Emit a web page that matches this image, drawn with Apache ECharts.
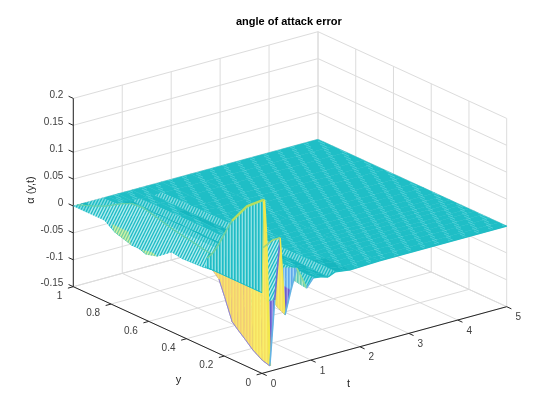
<!DOCTYPE html>
<html>
<head>
<meta charset="utf-8">
<title>angle of attack error</title>
<script src="https://cdn.jsdelivr.net/npm/echarts@6/dist/echarts.min.js"></script>
<style>
  html, body { margin: 0; padding: 0; background: #fff; }
  #chart { width: 560px; height: 420px; }
</style>
</head>
<body>
<div id="chart"></div>
<script>
// values
var tTicks = [0, 1, 2, 3, 4, 5];
var yTicks = [0, 0.2, 0.4, 0.6, 0.8, 1];
var zTicks = [-0.15, -0.1, -0.05, 0, 0.05, 0.1, 0.15, 0.2];

var tValues = [0, 0.04, 0.08, 0.12, 0.16, 0.26, 0.37, 0.47, 0.59, 0.71, 0.81, 0.91, 1.05, 1.2, 1.35, 1.5, 1.8, 2.4, 5];
var yValues = [0, 0.04, 0.09, 0.13, 0.17, 0.2, 0.24, 0.27, 0.3, 0.34, 0.38, 0.44, 0.49, 0.56, 0.65, 0.71, 0.76, 0.85, 0.92, 1];
// one row per t, one column per y
var zRows = [
  [0, 0, 0, 0, 0, 0, 0, 0, 0, 0, 0, 0, 0, 0, 0, 0, 0, 0, 0, 0],
  [0.172, 0.16, 0.145, 0.125, 0.105, 0.082, 0.05, 0.03, 0.015, 0.015, 0.018, 0.021, 0.024, 0.028, 0.03, 0.029, 0.025, 0.012, 0.005, 0],
  [0.11, 0.115, 0.11, 0.09, 0.07, 0.05, 0.035, 0.024, 0.024, 0.026, 0.029, 0.033, 0.036, 0.043, 0.051, 0.049, 0.041, 0.022, 0.011, 0],
  [-0.02, -0.01, -0.005, -0.005, -0.005, -0.005, 0, 0.005, 0.008, 0.012, 0.018, 0.022, 0.026, 0.032, 0.036, 0.036, 0.03, 0.015, 0.005, 0],
  [-0.14, -0.136, -0.125, -0.112, -0.1, -0.09, -0.05, -0.022, -0.012, -0.004, 0.004, 0.008, 0.012, 0.018, 0.02, 0.02, 0.015, 0.005, 0, 0],
  [-0.02, -0.03, -0.05, -0.056, -0.06, -0.052, -0.035, -0.024, -0.016, -0.018, -0.02, -0.021, -0.022, -0.018, -0.035, -0.04, -0.04, -0.03, -0.012, 0],
  [0.093, 0.082, 0.06, 0.045, 0.03, 0.018, 0.005, -0.003, -0.01, -0.017, -0.024, -0.024, -0.024, -0.022, -0.046, -0.052, -0.046, -0.04, -0.02, 0],
  [-0.053, -0.045, -0.03, -0.02, -0.012, -0.008, -0.004, -0.002, 0, -0.006, -0.012, -0.013, -0.014, -0.012, -0.02, -0.022, -0.02, -0.016, -0.006, 0],
  [-0.01, -0.008, -0.004, -0.002, 0, 0.001, 0.002, 0.002, 0.002, 0.003, 0.004, 0.004, 0.004, 0.004, 0.006, 0.006, 0.006, 0.004, 0.002, 0],
  [0.028, 0.022, 0.014, 0.01, 0.006, 0.004, 0.003, 0.002, 0.002, 0.004, 0.006, 0.006, 0.006, 0.008, 0.008, 0.008, 0.008, 0.006, 0.002, 0],
  [0.008, 0.006, 0.004, 0.003, 0.002, 0.002, 0.001, 0.001, 0.001, 0.002, 0.002, 0.002, 0.002, 0.002, 0.002, 0.002, 0.002, 0.002, 0.001, 0],
  [-0.014, -0.012, -0.008, -0.006, -0.004, -0.003, -0.002, -0.002, -0.002, -0.003, -0.004, -0.004, -0.004, -0.004, -0.004, -0.004, -0.004, -0.003, -0.001, 0],
  [0.002, 0.002, 0.002, 0.002, 0.001, 0.001, 0.001, 0.001, 0.001, 0.001, 0.001, 0.001, 0.001, 0.001, 0.001, 0.001, 0.001, 0.001, 0, 0],
  [0, 0, 0, 0, 0, 0, 0, 0, 0, 0, 0, 0, 0, 0, 0, 0, 0, 0, 0, 0],
  [-0.004, -0.004, -0.003, -0.003, -0.002, -0.002, -0.002, -0.001, -0.001, -0.002, -0.002, -0.002, -0.002, -0.002, -0.002, -0.002, -0.002, -0.001, -0.001, 0],
  [0.002, 0.002, 0.002, 0.002, 0.001, 0.001, 0.001, 0.001, 0.001, 0.001, 0.001, 0.001, 0.001, 0.001, 0.001, 0.001, 0.001, 0.001, 0, 0],
  [-0.002, -0.002, -0.002, -0.002, -0.001, -0.001, -0.001, -0.001, -0.001, -0.001, -0.001, -0.001, -0.001, -0.001, -0.001, -0.001, -0.001, -0.001, 0, 0],
  [0, 0, 0, 0, 0, 0, 0, 0, 0, 0, 0, 0, 0, 0, 0, 0, 0, 0, 0, 0],
  [0, 0, 0, 0, 0, 0, 0, 0, 0, 0, 0, 0, 0, 0, 0, 0, 0, 0, 0, 0]
];

// MATLAB style orthographic view, in page pixels
function project(t, y, z) {
  return [262 + 48.94 * t - 188.7 * y, 373.4 - 13.34 * t - 86.7 * y - 538 * (z + 0.15)];
}

function slantPattern(bg, fg) {
  var c = document.createElement('canvas');
  c.width = 12; c.height = 24;
  var g = c.getContext('2d');
  g.fillStyle = bg;
  g.fillRect(0, 0, 12, 24);
  g.strokeStyle = fg;
  g.lineWidth = 1.4;
  for (var x = -24; x < 36; x += 3) {
    g.beginPath();
    g.moveTo(x, 24);
    g.lineTo(x + 12, 0);
    g.stroke();
  }
  return { image: c, repeat: 'repeat' };
}

function stripePattern(bg, fg) {
  var c = document.createElement('canvas');
  c.width = 3; c.height = 3;
  var g = c.getContext('2d');
  g.fillStyle = bg;
  g.fillRect(0, 0, 3, 3);
  g.fillStyle = fg;
  g.fillRect(0, 0, 1.6, 3);
  return { image: c, repeat: 'repeat' };
}

// flat part: dense lines that beat into steep light bands
function flatPattern(bg, fg) {
  var c = document.createElement('canvas');
  c.width = 16; c.height = 24;
  var g = c.getContext('2d');
  g.fillStyle = bg;
  g.fillRect(0, 0, 16, 24);
  g.strokeStyle = fg;
  g.lineWidth = 1;
  for (var r = -3; r < 27; r += 3) {
    for (var k = -16; k <= 16; k += 16) {
      g.beginPath();
      g.moveTo(r * 2 / 3 + k, r);
      g.lineTo(r * 2 / 3 + k + 7, r + 3.2);
      g.stroke();
    }
  }
  return { image: c, repeat: 'repeat' };
}

var fills = {
  flat: flatPattern('#1fbec6', '#4ccfd6'),
  dense: flatPattern('#16b6bf', '#2cc4cc'),
  ripple: slantPattern('#86dde2', '#18bbc4'),
  fan: slantPattern('#b5ecee', '#1fbcc6'),
  steep: stripePattern('#8ce0e4', '#1fbcc6'),
  blue: stripePattern('#a5d8f3', '#5fa8ec'),
  purple: stripePattern('#a79be6', '#6a5fd0'),
  yellow: stripePattern('#f9ee6c', '#f6e062'),
  orange: stripePattern('#f9e56c', '#f3cf72'),
  tip: stripePattern('#e8dc5c', '#8f8a3c'),
  pale: slantPattern('#d6f2a8', '#6fd0a0'),
  mint: stripePattern('#b4e8c8', '#62cdb8')
};

function cellFill(i, j, flatArea, pts) {
  var a = 0;
  for (var k = 0; k < 4; k++) {
    var p = pts[k], q = pts[(k + 1) % 4];
    a += p[0] * q[1] - q[0] * p[1];
  }
  var ratio = (a / 2) / flatArea;
  var zm = (zRows[i][j] + zRows[i + 1][j] + zRows[i][j + 1] + zRows[i + 1][j + 1]) / 4;
  if (ratio < 0) {
    if (tValues[i] >= 0.59) return fills.mint;
    if (zm < -0.115) return fills.tip;
    if (yValues[j] >= 0.09 && yValues[j] < 0.28) return fills.orange;
    if (yValues[j] < 0.09) return fills.yellow;
    // only the deepest part of the far dip shows green
    if (zm < -0.012 && yValues[j] >= 0.65 && yValues[j] < 0.8) return fills.pale;
    return fills.fan;
  }
  if (zm < -0.015 && yValues[j] < 0.3) return fills.purple;
  if (tValues[i] >= 0.47 && tValues[i] < 0.71 && yValues[j] < 0.2) return fills.blue;
  if (ratio > 3) return tValues[i] < 0.04 && yValues[j] < 0.3 ? fills.steep : fills.fan;
  if (ratio > 1.12) return fills.ripple;
  if (ratio < 0.8) return fills.dense;
  return fills.flat;
}

var cellData = [];
for (var i = tValues.length - 2; i >= 0; i--) {
  for (var j = yValues.length - 2; j >= 0; j--) {
    cellData.push([i, j]);
  }
}

function renderCell(params, api) {
  var i = api.value(0), j = api.value(1);
  var t0 = tValues[i], t1 = tValues[i + 1], y0 = yValues[j], y1 = yValues[j + 1];
  var raw = [
    project(t0, y0, zRows[i][j]),
    project(t1, y0, zRows[i + 1][j]),
    project(t1, y1, zRows[i + 1][j + 1]),
    project(t0, y1, zRows[i][j + 1])
  ];
  // signed area of the same cell lying flat, tells top side from under side
  var f = [project(t0, y0, 0), project(t1, y0, 0), project(t1, y1, 0), project(t0, y1, 0)];
  var flatArea = 0;
  for (var k = 0; k < 4; k++) {
    flatArea += f[k][0] * f[(k + 1) % 4][1] - f[(k + 1) % 4][0] * f[k][1];
  }
  flatArea /= 2;
  var fill = cellFill(i, j, flatArea, raw);
  return {
    type: 'polygon',
    shape: { points: raw.map(function (p) { return api.coord(p); }) },
    style: { fill: fill, stroke: fill, lineWidth: 0.5 }
  };
}

// frame: walls, floor, axes and ticks
var GRID = '#dcdcdc', AXIS = '#262626';
var frame = [];
function seg(a, b, colour) { frame.push({ a: a, b: b, colour: colour }); }
tTicks.forEach(function (t) {
  seg([t, 0, -0.15], [t, 1, -0.15], GRID);
  seg([t, 1, -0.15], [t, 1, 0.2], GRID);
});
yTicks.forEach(function (y) {
  seg([0, y, -0.15], [5, y, -0.15], GRID);
  seg([5, y, -0.15], [5, y, 0.2], GRID);
});
zTicks.forEach(function (z) {
  seg([0, 1, z], [5, 1, z], GRID);
  seg([5, 1, z], [5, 0, z], GRID);
});
seg([0, 1, -0.15], [0, 1, 0.2], AXIS);
seg([0, 1, -0.15], [0, 0, -0.15], AXIS);
seg([0, 0, -0.15], [5, 0, -0.15], AXIS);
tTicks.forEach(function (t) { seg([t, 0, -0.15], [t, -0.025, -0.15], AXIS); });
yTicks.forEach(function (y) { seg([0, y, -0.15], [-0.11, y, -0.15], AXIS); });
zTicks.forEach(function (z) { seg([0, 1, z], [0, 1.025, z], AXIS); });

function renderSeg(params, api) {
  var s = frame[api.value(0)];
  var p = api.coord(project(s.a[0], s.a[1], s.a[2]));
  var q = api.coord(project(s.b[0], s.b[1], s.b[2]));
  return {
    type: 'line',
    shape: { x1: p[0], y1: p[1], x2: q[0], y2: q[1] },
    style: { stroke: s.colour, lineWidth: 1, fill: null }
  };
}

// surface edges drawn over the cells
var edges = [];
function edgeLine(points, colour, width) { edges.push({ points: points, colour: colour, width: width }); }
// the y = 0 border, rising parts blue, falling parts yellow
for (var n = 0; n < tValues.length - 1; n++) {
  var rising = zRows[n + 1][0] > zRows[n][0];
  var big = tValues[n] < 0.95;
  var colour = !big ? '#22bcc4' : (n === 0 ? '#c6e05a' : (rising ? (zRows[n + 1][0] > 0.05 ? '#6a6fd8' : '#63b4e4') : (tValues[n] >= 0.59 ? '#8fdc9c' : '#f2e84c')));
  var width = n === 0 ? 1 : (n <= 3 ? 2.6 : 1.6);
  edgeLine([project(tValues[n], 0, zRows[n][0]), project(tValues[n + 1], 0, zRows[n + 1][0])], colour, width);
}
// ridge behind the t = 0 border and the dip under it
var ridgeHigh = [], ridgeMid = [], ridgeLow = [], dip = [];
yValues.forEach(function (y, j) {
  if (y <= 0.17) ridgeHigh.push(project(tValues[1], y, zRows[1][j]));
  if (y >= 0.17 && y <= 0.3) ridgeMid.push(project(tValues[1], y, zRows[1][j]));
  if (y >= 0.3) ridgeLow.push(project(tValues[2], y, zRows[2][j]));
  if (y <= 0.27) dip.push(project(tValues[4], y, zRows[4][j]));
});
edgeLine(ridgeHigh, '#b5de5e', 2.4);
edgeLine(ridgeMid, '#6fd0a0', 1.6);
edgeLine(ridgeLow, '#62cfa8', 1.2);
edgeLine(dip, '#8f86dc', 1);
// ridge of the second wave
edgeLine([project(tValues[6], 0, zRows[6][0]), project(tValues[6], 0.04, zRows[6][1]), project(tValues[6], 0.09, zRows[6][2])], '#9fd67a', 1.6);
// t = 0 border, only the near part stands out
edgeLine([project(0, 0, 0), project(0, 0.3, 0)], '#1fbcc6', 1);

function renderEdge(params, api) {
  var e = edges[api.value(0)];
  return {
    type: 'polyline',
    shape: { points: e.points.map(function (p) { return api.coord(p); }) },
    style: { stroke: e.colour, lineWidth: e.width, fill: null }
  };
}

// tick labels
var labels = [];
zTicks.forEach(function (z) {
  var p = project(0, 1, z);
  labels.push({ x: p[0] - 10, y: p[1] - 3, text: String(z), align: 'right' });
});
yTicks.forEach(function (y) {
  var p = project(0, y, -0.15);
  labels.push({ x: p[0] - 11, y: p[1] + 9.5, text: String(y), align: 'right' });
});
tTicks.forEach(function (t) {
  var p = project(t, 0, -0.15);
  labels.push({ x: p[0] + 11.5, y: p[1] + 11, text: String(t), align: 'center' });
});

function renderLabel(params, api) {
  var l = labels[api.value(0)];
  var p = api.coord([l.x, l.y]);
  return {
    type: 'text',
    x: p[0], y: p[1],
    style: {
      text: l.text, fill: '#404040', font: '10px "Liberation Sans"',
      textAlign: l.align, textVerticalAlign: 'middle'
    }
  };
}

function indexData(list) {
  return list.map(function (x, n) { return [n]; });
}

var chart = echarts.init(document.getElementById('chart'));
chart.setOption({
  animation: false,
  backgroundColor: '#fff',
  title: {
    text: 'angle of attack error',
    left: 236, top: 16, padding: 0,
    textStyle: { fontFamily: 'Liberation Sans', fontSize: 11, fontWeight: 'bold', color: '#000' }
  },
  grid: { left: 0, right: 0, top: 0, bottom: 0 },
  // page pixel axes that carry the projected surface
  xAxis: { type: 'value', min: 0, max: 560, show: false },
  yAxis: { type: 'value', min: 0, max: 420, inverse: true, show: false },
  series: [
    { type: 'custom', coordinateSystem: 'cartesian2d', silent: true, clip: false, progressive: 0, data: indexData(frame), renderItem: renderSeg },
    { type: 'custom', coordinateSystem: 'cartesian2d', silent: true, clip: false, progressive: 0, data: cellData, renderItem: renderCell },
    { type: 'custom', coordinateSystem: 'cartesian2d', silent: true, clip: false, progressive: 0, data: indexData(edges), renderItem: renderEdge },
    { type: 'custom', coordinateSystem: 'cartesian2d', silent: true, clip: false, progressive: 0, data: indexData(labels), renderItem: renderLabel }
  ],
  graphic: [
    { type: 'text', x: 178.5, y: 379.5, style: { text: 'y', fill: '#262626', font: '11px "Liberation Sans"', textAlign: 'center', textVerticalAlign: 'middle' } },
    { type: 'text', x: 348.5, y: 384, style: { text: 't', fill: '#262626', font: '11px "Liberation Sans"', textAlign: 'center', textVerticalAlign: 'middle' } },
    { type: 'text', x: 31, y: 190, rotation: Math.PI / 2, style: { text: 'α (y,t)', fill: '#262626', font: '11px "Liberation Sans"', textAlign: 'center', textVerticalAlign: 'middle' } }
  ]
});
</script>
</body>
</html>
